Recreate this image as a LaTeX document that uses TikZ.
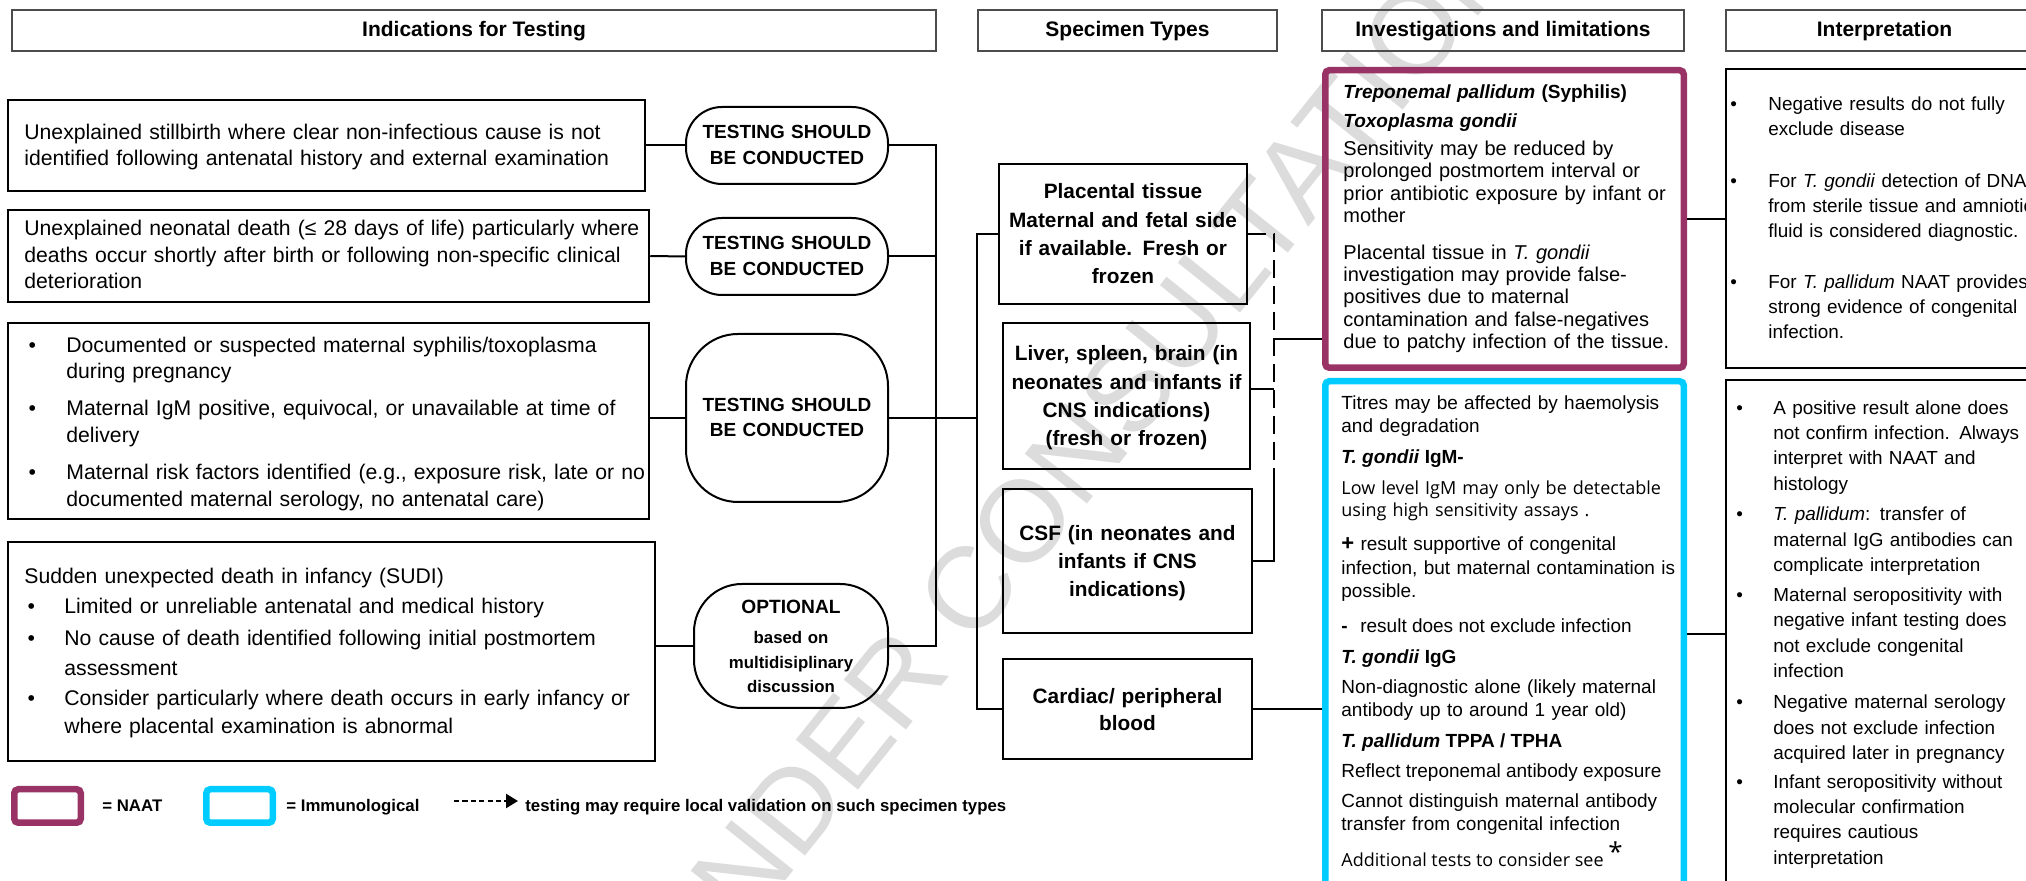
\documentclass[tikz,border=0pt]{standalone}
\usepackage{fontspec}
\setmainfont{Liberation Sans}
\newfontfamily\osans{Open Sans}
\usetikzlibrary{fit,arrows.meta}
\definecolor{naatc}{HTML}{993366}
\definecolor{immc}{HTML}{00CCFF}
\definecolor{wmark}{HTML}{DCDCDC}
\newcommand\fs[2]{\fontsize{#1}{#2}\selectfont}
\newcommand\bli[3]{\hangindent=#1\hangafter=1\noindent\makebox[#1][l]{\hspace{#2}\textbullet}#3\par}
\begin{document}
\begin{tikzpicture}[x=0.5pt,y=-0.5pt,
  hdr/.style={draw=black!70, line width=0.75pt, inner sep=0pt},
  ibox/.style={draw, line width=1.25pt, inner sep=0pt},
  pill/.style={draw, line width=1pt, inner sep=0pt},
  sbox/.style={draw, line width=1pt, inner sep=0pt},
  rbox/.style={draw, line width=1.25pt, inner sep=0pt},
  naat/.style={draw=naatc, line width=3.25pt, rounded corners=2pt, inner sep=0pt},
  imm/.style={draw=immc, line width=3.25pt, rounded corners=2pt, inner sep=0pt},
  conn/.style={line width=1pt},
  dconn/.style={line width=0.8pt, dash pattern=on 9pt off 4pt},
  txt/.style={anchor=base west, inner sep=0pt, align=left},
  ctxt/.style={anchor=base, inner sep=0pt, align=center},
  htxt/.style={ctxt, font=\bfseries\fs{10.5}{12}},
  ptxt/.style={ctxt, text width=98pt, font=\bfseries\fs{9.5}{13}},
  stxt/.style={ctxt, text width=125pt, font=\bfseries\fs{10.4}{14.05}},
]
\useasboundingbox (0,0) rectangle (2026,881);

% watermark
\node[inner sep=0pt, rotate=51.3, text=wmark, font=\fs{58}{60}] (wm) at (1079,451) {UNDER CONSULTATION};

% headers
\node[hdr, fit={(12,10)(936,51)}] (h1) {};
\node[hdr, fit={(978,10)(1277,51)}] (h2) {};
\node[hdr, fit={(1322,10)(1684,51)}] (h3) {};
\node[hdr, fit={(1726,10)(2043,51)}] (h4) {};
\node[htxt] (h1t) at (474,37) {Indications for Testing};
\node[htxt] (h2t) at (1127.5,37) {Specimen Types};
\node[htxt] (h3t) at (1503,37) {Investigations and limitations};
\node[htxt] (h4t) at (1884.5,37) {Interpretation};

% indications
\node[ibox, fit={(8,100)(645,191)}] (b1) {};
\node[ibox, fit={(8,210)(649,302)}] (b2) {};
\node[ibox, fit={(8,323)(649,519)}] (b3) {};
\node[ibox, fit={(8,542)(655,761)}] (b4) {};
\node[txt, text width=315pt, font=\fs{10.6}{13}] (b1t) at (24,139.3)
 {Unexplained stillbirth where clear non-infectious cause is not\\identified following antenatal history and external examination};
\node[txt, text width=315pt, font=\fs{10.6}{13.2}] (b2t) at (24,236)
 {Unexplained neonatal death (≤ 28 days of life) particularly where\\deaths occur shortly after birth or following non-specific clinical\\deterioration};
\node[txt, text width=315pt, font=\fs{10.6}{13.1}] (b3a) at (24,352.3)
 {\bli{21pt}{2.1pt}{Documented or suspected maternal syphilis/toxoplasma\newline during pregnancy}};
\node[txt, text width=315pt, font=\fs{10.6}{13.1}] (b3b) at (24,416)
 {\bli{21pt}{2.1pt}{Maternal IgM positive, equivocal, or unavailable at time of\newline delivery}};
\node[txt, text width=315pt, font=\fs{10.6}{13.5}] (b3c) at (24,480)
 {\bli{21pt}{2.1pt}{Maternal risk factors identified (e.g., exposure risk, late or no\newline documented maternal serology, no antenatal care)}};
\node[txt, text width=315pt, font=\fs{10.6}{15}] (b4a) at (24,583.5)
 {Sudden unexpected death in infancy (SUDI)};
\node[txt, text width=315pt, font=\fs{10.6}{15}] (b4b) at (24,614)
 {\bli{20pt}{1.6pt}{Limited or unreliable antenatal and medical history}};
\node[txt, text width=315pt, font=\fs{10.6}{14.8}] (b4c) at (24,645.5)
 {\bli{20pt}{1.6pt}{No cause of death identified following initial postmortem\newline assessment}};
\node[txt, text width=315pt, font=\fs{10.6}{14}] (b4d) at (24,706)
 {\bli{20pt}{1.6pt}{Consider particularly where death occurs in early infancy or\newline where placental examination is abnormal}};

% pills
\node[pill, rounded corners=18pt, fit={(686,107)(888,184)}] (p1) {};
\node[pill, rounded corners=18pt, fit={(686,218)(888,295)}] (p2) {};
\node[pill, rounded corners=26pt, fit={(686,334)(888,502)}] (p3) {};
\node[pill, rounded corners=24pt, fit={(694,584)(888,708)}] (p4) {};
\node[ptxt] (p1t) at (787,139) {TESTING SHOULD\\BE CONDUCTED};
\node[ptxt] (p2t) at (787,250) {TESTING SHOULD\\BE CONDUCTED};
\node[ptxt, font=\bfseries\fs{9.5}{12.5}] (p3t) at (787,411.7) {TESTING SHOULD\\BE CONDUCTED};
\node[ptxt, font=\bfseries\fs{9.6}{12}] (p4t) at (791,613.3) {OPTIONAL};
\node[ptxt, font=\bfseries\fs{8.4}{12.2}] (p4u) at (791,644) {based on\\multidisiplinary\\discussion};

% specimen types
\node[sbox, fit={(999,164)(1247,304)}] (s1) {};
\node[sbox, fit={(1003,323)(1250,469)}] (s2) {};
\node[sbox, fit={(1003,489)(1252,633)}] (s3) {};
\node[sbox, fit={(1003,659)(1252,759)}] (s4) {};
\node[stxt] (s1t) at (1123,199) {Placental tissue\\Maternal and fetal side\\if available. Fresh or\\frozen};
\node[stxt, font=\bfseries\fs{10.4}{14.15}] (s2t) at (1126.5,361) {Liver, spleen, brain (in\\neonates and infants if\\CNS indications)\\(fresh or frozen)};
\node[stxt, font=\bfseries\fs{10.4}{14}] (s3t) at (1127.5,540.7) {CSF (in neonates and\\infants if CNS\\indications)};
\node[stxt, font=\bfseries\fs{10.4}{13.7}] (s4t) at (1127.5,703.3) {Cardiac/ peripheral\\blood};

% investigations
\node[naat, fit={(1325.25,70.25)(1683.75,367.75)}] (nb) {};
\node[imm, fit={(1325.25,381.25)(1683.75,886)}] (ib) {};
\node[txt, text width=172pt, font=\bfseries\itshape\fs{9.5}{14.25}] (nt1) at (1343,99)
 {Treponemal pallidum {\upshape(Syphilis)}\\Toxoplasma gondii};
\node[txt, text width=172pt, font=\fs{10}{11.15}] (nt2) at (1343,155.7)
 {Sensitivity may be reduced by\\prolonged postmortem interval or\\prior antibiotic exposure by infant or\\mother};
\node[txt, text width=172pt, font=\fs{10}{11.15}] (nt3) at (1343,259.3)
 {Placental tissue in \textit{T. gondii}\\investigation may provide false-\\positives due to maternal\\contamination and false-negatives\\due to patchy infection of the tissue.};

\node[txt, text width=172pt, font=\fs{9.5}{11.15}] (it1) at (1341,410) {Titres may be affected by haemolysis\\and degradation};
\node[txt, font=\bfseries\fs{9.5}{11}] (it2) at (1341,463.3) {\textit{T. gondii} IgM-};
\node[txt, text width=172pt, font=\osans\fs{9}{11.2}] (it3) at (1341,494.3) {Low level IgM may only be detectable\\using high sensitivity assays .};
\node[txt, text width=172pt, font=\fs{9.5}{11.6}] (it4) at (1341,551) {{\bfseries\fs{11}{11.6}+} result supportive of congenital\\infection, but maternal contamination is\\possible.};
\node[txt, font=\fs{9.5}{11}] (it5) at (1341,632.7) {\textbf{-}\hspace{6.3pt}result does not exclude infection};
\node[txt, font=\bfseries\fs{9.5}{11}] (it6) at (1341,663.3) {\textit{T. gondii} IgG};
\node[txt, text width=172pt, font=\fs{9.5}{11.7}] (it7) at (1341,693.3) {Non-diagnostic alone (likely maternal\\antibody up to around 1 year old)};
\node[txt, font=\bfseries\fs{9.5}{11}] (it8) at (1341,747.7) {\textit{T. pallidum} TPPA / TPHA};
\node[txt, font=\fs{9.5}{11}] (it9) at (1341,777.7) {Reflect treponemal antibody exposure};
\node[txt, text width=172pt, font=\fs{9.5}{11.7}] (it10) at (1341,807.3) {Cannot distinguish maternal antibody\\transfer from congenital infection};
\node[txt, font=\osans\fs{9}{11}] (it11) at (1341,866.7) {Additional tests to consider see \raisebox{2.5pt}{\fs{13}{13}*}};

% interpretation
\node[rbox, fit={(1726,69)(2043,368)}] (r1) {};
\node[rbox, fit={(1726,380)(2043,886)}] (r2) {};
\node[txt, text width=170pt, font=\fs{9.45}{12.5}] (r1a) at (1730,111)
 {\bli{19pt}{0pt}{Negative results do not fully\newline exclude disease}};
\node[txt, text width=170pt, font=\fs{9.45}{12.5}] (r1b) at (1730,187.3)
 {\bli{19pt}{0pt}{For \textit{T. gondii} detection of DNA\newline from sterile tissue and amniotic\newline fluid is considered diagnostic.}};
\node[txt, text width=170pt, font=\fs{9.45}{12.5}] (r1c) at (1730,289)
 {\bli{19pt}{0pt}{For \textit{T. pallidum} NAAT provides\newline strong evidence of congenital\newline infection.}};
\node[txt, text width=170pt, font=\fs{9.45}{12.65}] (r2a) at (1736,414.3)
 {\bli{18.5pt}{0pt}{A positive result alone does\newline not confirm infection. Always\newline interpret with NAAT and\newline histology}};
\node[txt, text width=170pt, font=\fs{9.45}{12.65}] (r2b) at (1736,521)
 {\bli{18.5pt}{0pt}{\textit{T. pallidum}: transfer of\newline maternal IgG antibodies can\newline complicate interpretation}};
\node[txt, text width=170pt, font=\fs{9.45}{12.65}] (r2c) at (1736,601.7)
 {\bli{18.5pt}{0pt}{Maternal seropositivity with\newline negative infant testing does\newline not exclude congenital\newline infection}};
\node[txt, text width=170pt, font=\fs{9.45}{12.65}] (r2d) at (1736,709)
 {\bli{18.5pt}{0pt}{Negative maternal serology\newline does not exclude infection\newline acquired later in pregnancy}};
\node[txt, text width=170pt, font=\fs{9.45}{12.65}] (r2e) at (1736,788.3)
 {\bli{18.5pt}{0pt}{Infant seropositivity without\newline molecular confirmation\newline requires cautious\newline interpretation}};

% connectors
\coordinate (bx1) at (936,0);
\coordinate (bx2) at (977,0);
\coordinate (bx3) at (1274,0);
\coordinate (brk) at (1274,470);
\coordinate (lvy) at (0,389);
\coordinate (nay) at (0,339);
\draw[conn] (b1.east) -- (p1.west);
\draw[conn] (b2.east) -- (p2.west);
\draw[conn] (b3.east |- p3.west) -- (p3.west);
\draw[conn] (b4.east |- p4.west) -- (p4.west);
\draw[conn] (p1.east) -- (p1.east -| bx1) -- (p4.east -| bx1) -- (p4.east);
\draw[conn] (p2.east) -- (p2.east -| bx1);
\draw[conn] (p3.east) -- (p3.east -| bx2);
\draw[conn] (s1.west) -- (s1.west -| bx2) -- (s4.west -| bx2) -- (s4.west);
\draw[dconn] (s1.east) -- (s1.east -| bx3) -- (brk);
\draw[conn] (brk) -- (s3.east -| bx3) -- (s3.east);
\draw[conn] (s2.east |- lvy) -- (lvy -| bx3);
\draw[conn] (nay -| bx3) -- (nay -| nb.west);
\draw[conn] (s4.east) -- (s4.east -| ib.west);
\draw[conn] (nb.east) -- (nb.east -| r1.west);
\draw[conn] (ib.east) -- (ib.east -| r2.west);

% legend
\node[naat, fit={(14.25,789.25)(80.75,822.75)}] (lg1) {};
\node[txt, font=\bfseries\fs{8.4}{10}] (lt1) at (102,811.5) {= NAAT};
\node[imm, fit={(206.25,789.25)(272.75,822.75)}] (lg2) {};
\node[txt, font=\bfseries\fs{8.4}{10}] (lt2) at (286,811.5) {= Immunological};
\coordinate (da1) at (454,801);
\coordinate (da2) at (518,801);
\draw[line width=1.2pt, dash pattern=on 2.6pt off 1.6pt, -{Triangle[length=6pt,width=7pt]}] (da1) -- (da2);
\node[txt, font=\bfseries\fs{8.4}{10}] (lt3) at (525,811.5) {testing may require local validation on such specimen types};
\end{tikzpicture}
\end{document}
